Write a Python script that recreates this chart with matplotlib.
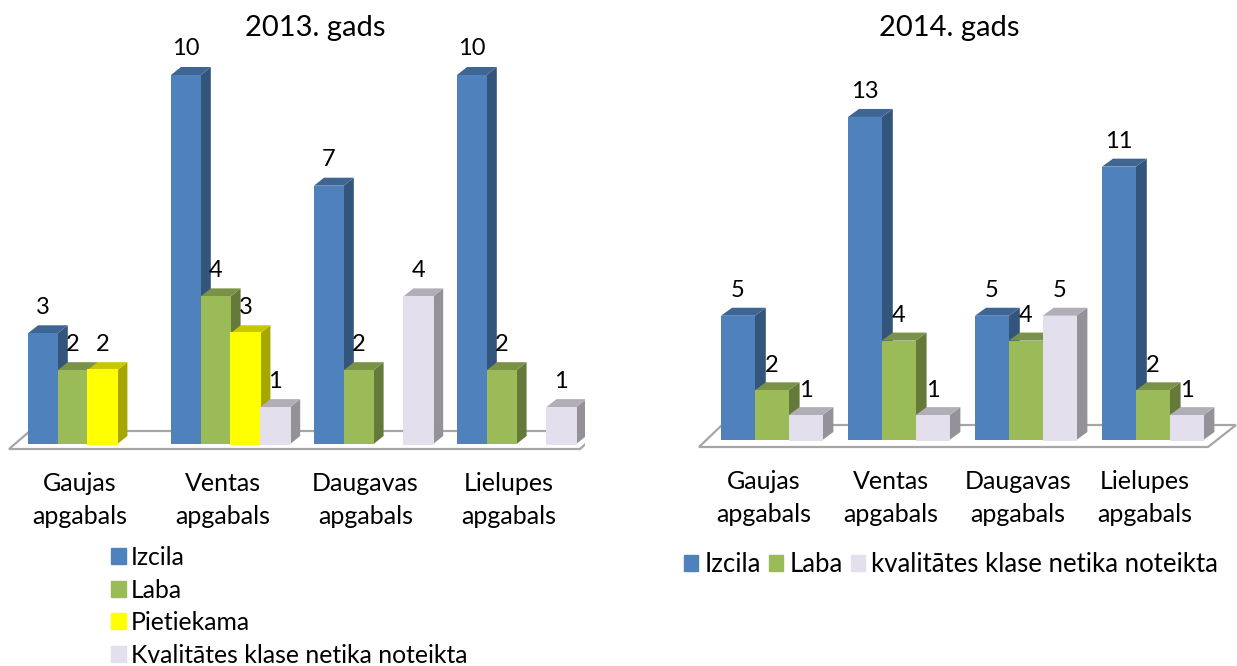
import matplotlib
matplotlib.use('Agg')
import matplotlib.pyplot as plt
import matplotlib.colors as mcolors
from matplotlib.patches import Polygon, Patch
from matplotlib.transforms import ScaledTranslation

plt.rcParams['font.family'] = ['Lato', 'DejaVu Sans']

W, H = 1237, 666
DPI = 100

categories = ['Gaujas\napgabals', 'Ventas\napgabals', 'Daugavas\napgabals', 'Lielupes\napgabals']

# 2013
izcila_13 = [3, 10, 7, 10]
laba_13 = [2, 4, 2, 2]
pietiekama_13 = [2, 3, None, None]
netika_13 = [None, 1, 4, 1]

# 2014
izcila_14 = [5, 13, 5, 11]
laba_14 = [2, 4, 4, 2]
netika_14 = [1, 1, 5, 1]

BLUE = '#4f81bd'
GREEN = '#9bbb59'
YELLOW = '#ffff00'
PALE = '#e4dfec'


def px(v):
    return v * 72 / DPI


def draw_chart(left, right, top, base, below, x0, step, bar_w, unit, depth, label_off, series, floor, title, title_x):
    ax = fig.add_axes([left / W, 1 - (base + below) / H, (right - left) / W, (base + below - top) / H])
    ax.set_xlim((left - x0) / step, (right - x0) / step)
    ax.set_ylim(-below / unit, (base - top) / unit)
    ax.patch.set_alpha(0)
    for s in ax.spines.values():
        s.set_visible(False)
    ax.set_yticks([])

    # floor of the 3D chart
    ax.add_patch(Polygon([((p[0] - x0) / step, (base - p[1]) / unit) for p in floor], closed=True,
                         facecolor='white', edgecolor='#a6a6a6', linewidth=1.6, zorder=0))

    dx, dy = depth
    w = bar_w / step
    for vals, col, slot in series:
        for g, v in enumerate(vals):
            if v is None:
                continue
            xa = g + slot * w
            xb = xa + w
            z = 3 + slot + g * 10
            rgb = mcolors.to_rgb(col)
            side = tuple(c * 0.65 for c in rgb)
            tp = tuple(c * 0.78 for c in rgb)
            # side face
            ax.add_patch(Polygon([(xb, 0), (xb, v), (xb + dx / step, v + dy / unit), (xb + dx / step, dy / unit)],
                                 facecolor=side, edgecolor='none', zorder=z))
            # top face
            ax.add_patch(Polygon([(xa, v), (xb, v), (xb + dx / step, v + dy / unit), (xa + dx / step, v + dy / unit)],
                                 facecolor=tp, edgecolor='none', zorder=z))
            lw = {YELLOW: 1.5, PALE: 0.7}.get(col, 0)
            ax.bar(xa, v, width=w, align='edge', color=col, edgecolor=col, linewidth=lw, zorder=z + 0.5)
            ax.annotate(str(v), (xa + w / 2, v), xytext=(0, px(label_off)), textcoords='offset points',
                        ha='center', va='center', fontsize=17, color='black', zorder=100)

    n = len(series)
    ax.set_xticks([g + n * w / 2 for g in range(4)])
    ax.set_xticklabels(categories, fontsize=18, linespacing=1.5)
    ax.tick_params(axis='x', length=0, pad=px(13))
    shift = ScaledTranslation(-8 / DPI, 0, fig.dpi_scale_trans)
    for t in ax.get_xticklabels():
        t.set_transform(t.get_transform() + shift)
    fig.text(title_x / W, 1 - 28 / H, title, ha='center', va='center', fontsize=21)
    return ax


fig = plt.figure(figsize=(W / DPI, H / DPI), dpi=DPI, facecolor='white')

draw_chart(0, 585, 40, 444, 15, 28, 143, 29.8, 36.9, (10, 8), 26,
           [(izcila_13, BLUE, 0), (laba_13, GREEN, 1), (pietiekama_13, YELLOW, 2), (netika_13, PALE, 3)],
           [(9, 449), (30, 431), (600, 431), (580, 449)], '2013. gads', 315)

draw_chart(620, 1237, 40, 440, 17, 721, 127, 33.8, 24.85, (11, 8), 25,
           [(izcila_14, BLUE, 0), (laba_14, GREEN, 1), (netika_14, PALE, 2)],
           [(699, 447), (722, 425), (1236, 425), (1208, 447)], '2014. gads', 949)

fig.legend(handles=[Patch(color=BLUE, label='Izcila'), Patch(color=GREEN, label='Laba'),
                    Patch(color=YELLOW, label='Pietiekama'), Patch(color=PALE, label='Kvalitātes klase netika noteikta')],
           loc='upper left', bbox_to_anchor=(111 / W, 1 - 546 / H), ncol=1, frameon=False, fontsize=17.8,
           handlelength=0.62, handleheight=0.62, handletextpad=0.17, labelspacing=0.385, borderpad=0, borderaxespad=0)
fig.legend(handles=[Patch(color=BLUE, label='Izcila'), Patch(color=GREEN, label='Laba'),
                    Patch(color=PALE, label='kvalitātes klase netika noteikta')],
           loc='upper left', bbox_to_anchor=(684 / W, 1 - 552 / H), ncol=3, frameon=False, fontsize=18.5,
           handlelength=0.56, handleheight=0.6, handletextpad=0.25, columnspacing=0.3, borderpad=0, borderaxespad=0)

fig.savefig('out.png', dpi=DPI)
